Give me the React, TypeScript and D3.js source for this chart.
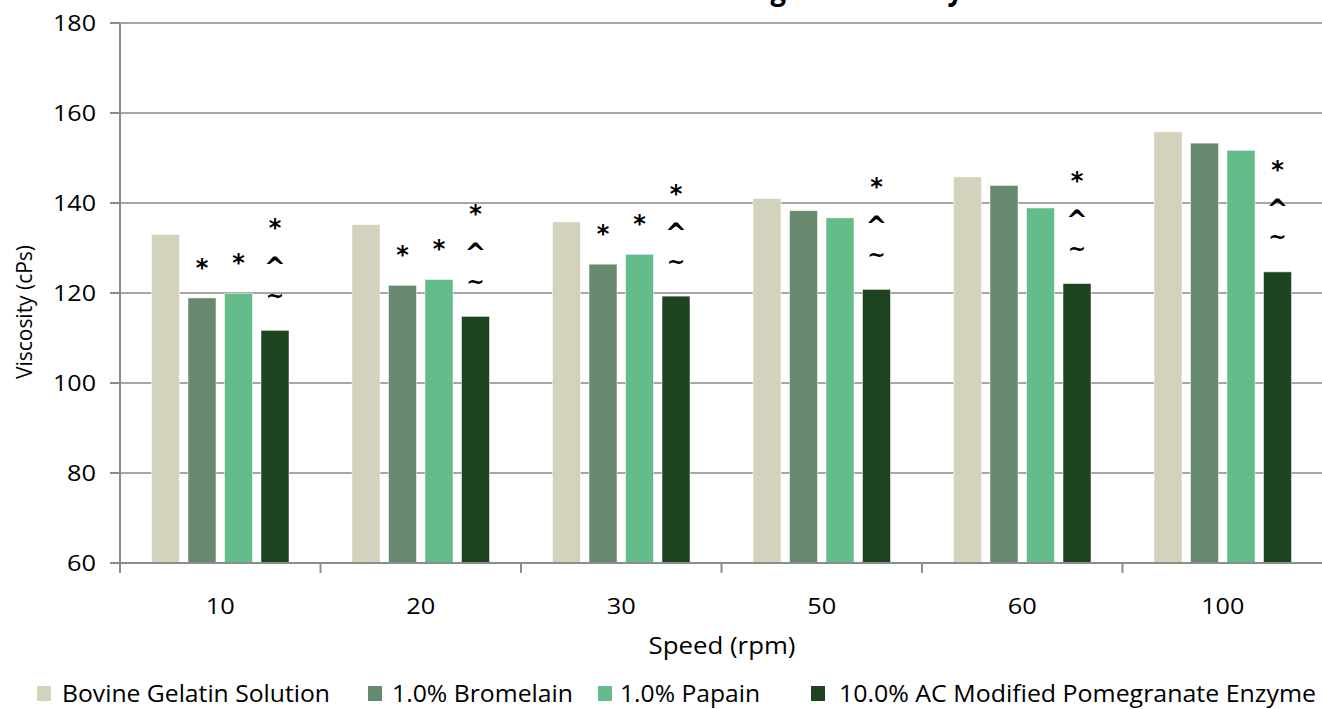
import { useEffect, useRef } from 'react';
import * as d3 from 'd3';

// Viscosity of bovine gelatin solutions after enzyme treatment, by spindle speed.

const categories = ['10', '20', '30', '50', '60', '100'];
const seriesNames = [
    'Bovine Gelatin Solution',
    '1.0% Bromelain',
    '1.0% Papain',
    '10.0% AC Modified Pomegranate Enzyme',
];
const gelatin = [133.0, 135.2, 135.8, 141.0, 145.8, 155.8];
const bromelain = [118.9, 121.7, 126.4, 138.3, 143.9, 153.3];
const papain = [119.9, 123.0, 128.6, 136.7, 138.9, 151.7];
const pomegranate = [111.7, 114.8, 119.3, 120.8, 122.1, 124.7];

// significance markers, stacked top to bottom
const gelatinMarks = ['', '', '', '', '', ''];
const bromelainMarks = ['*', '*', '*', '', '', ''];
const papainMarks = ['*', '*', '*', '', '', ''];
const pomegranateMarks = ['*^~', '*^~', '*^~', '*^~', '*^~', '*^~'];

const yTicks = [60, 80, 100, 120, 140, 160, 180];

const COLORS = {
    gelatin: '#d3d2bc',
    bromelain: '#678a6e',
    papain: '#63bc89',
    pomegranate: '#1e4321',
    grid: '#a6a6a6',
    axis: '#8c8c8c',
    text: '#000',
};

const FONT = '"Open Sans", "Noto Sans", sans-serif';

const W = 1322;
const H = 709;

export default function App() {
    const svgRef = useRef<SVGSVGElement | null>(null);

    useEffect(() => {
        if (!svgRef.current) return;
        const svg = d3.select(svgRef.current);
        svg.selectAll('*').remove();

        const values = [gelatin, bromelain, papain, pomegranate];
        const marks = [gelatinMarks, bromelainMarks, papainMarks, pomegranateMarks];
        const colors = [COLORS.gelatin, COLORS.bromelain, COLORS.papain, COLORS.pomegranate];
        const keys = seriesNames.map((_, i) => String(i));

        const left = 120;
        const plotTop = 23;
        const plotBottom = 563;

        const x = d3.scaleBand<string>().domain(categories).range([left, left + 6 * 200.5]);
        const inner = d3.scaleBand<string>().domain(keys).range([0, x.bandwidth()])
            .paddingInner(0.233).paddingOuter(0.863);
        const y = d3.scaleLinear().domain([60, 180]).range([plotBottom, plotTop]);

        // title, mostly cut off by the top edge (as in the original)
        svg.append('text')
            .attr('x', 668).attr('y', 0)
            .attr('text-anchor', 'middle')
            .attr('textLength', 590).attr('lengthAdjust', 'spacingAndGlyphs')
            .style('font-family', FONT).style('font-size', '30px').style('font-weight', 'bold')
            .text('Bovine Gelatin Solution Change in Viscosity');

        // grid
        svg.append('g')
            .selectAll('line')
            .data(yTicks.filter(d => d !== 60))
            .join('line')
            .attr('x1', left).attr('x2', W)
            .attr('y1', d => y(d)).attr('y2', d => y(d))
            .attr('stroke', COLORS.grid).attr('stroke-width', 2);

        // bars
        categories.forEach((cat, ci) => {
            const g = svg.append('g').attr('transform', `translate(${x(cat)},0)`);
            values.forEach((vals, si) => {
                const bx = inner(keys[si])!;
                const v = vals[ci];
                g.append('rect')
                    .attr('x', bx).attr('y', y(v))
                    .attr('width', inner.bandwidth())
                    .attr('height', y(60) - y(v))
                    .attr('fill', colors[si])
                    .attr('stroke', 'rgba(255,255,255,0.5)')
                    .attr('stroke-width', 1);

                const m = marks[si][ci].split('');
                m.forEach((ch, k) => {
                    const row = m.length - 1 - k;
                    g.append('text')
                        .attr('x', bx + inner.bandwidth() / 2)
                        .attr('y', y(v) - 35 - row * 36)
                        .attr('text-anchor', 'middle')
                        .attr('dominant-baseline', 'central')
                        .style('font-family', '"DejaVu Sans", sans-serif')
                        .style('font-weight', 'bold')
                        .style('font-size', ch === '*' ? '24px' : ch === '^' ? '26px' : '22px')
                        .attr('dy', ch === '*' ? '0.2em' : ch === '^' ? '0.3em' : '0')
                        .text(ch);
                });
            });
        });

        // y axis
        svg.append('line')
            .attr('x1', left).attr('x2', left)
            .attr('y1', plotTop).attr('y2', plotBottom)
            .attr('stroke', COLORS.axis).attr('stroke-width', 2);
        const yt = svg.append('g');
        yt.selectAll('line')
            .data(yTicks)
            .join('line')
            .attr('x1', left - 10).attr('x2', left)
            .attr('y1', d => y(d)).attr('y2', d => y(d))
            .attr('stroke', COLORS.axis).attr('stroke-width', 2);
        yt.selectAll('text')
            .data(yTicks)
            .join('text')
            .attr('x', 96).attr('y', d => y(d))
            .attr('dy', '0.36em')
            .attr('text-anchor', 'end')
            .attr('textLength', d => (d >= 100 ? 43 : 29)).attr('lengthAdjust', 'spacingAndGlyphs')
            .style('font-family', FONT).style('font-size', '22px')
            .text(d => String(d));

        // x axis
        svg.append('line')
            .attr('x1', left).attr('x2', W)
            .attr('y1', plotBottom).attr('y2', plotBottom)
            .attr('stroke', COLORS.axis).attr('stroke-width', 2);
        const bounds = categories.map(c => x(c)!).concat([x.range()[1]]);
        svg.append('g')
            .selectAll('line')
            .data(bounds)
            .join('line')
            .attr('x1', d => d).attr('x2', d => d)
            .attr('y1', plotBottom).attr('y2', plotBottom + 10)
            .attr('stroke', COLORS.axis).attr('stroke-width', 2);
        svg.append('g')
            .selectAll('text')
            .data(categories)
            .join('text')
            .attr('x', d => x(d)! + x.bandwidth() / 2)
            .attr('y', 614)
            .attr('text-anchor', 'middle')
            .attr('textLength', d => (d.length > 2 ? 43 : 29)).attr('lengthAdjust', 'spacingAndGlyphs')
            .style('font-family', FONT).style('font-size', '22px')
            .text(d => d);

        // axis titles
        svg.append('text')
            .attr('x', 722).attr('y', 654)
            .attr('text-anchor', 'middle')
            .attr('textLength', 147).attr('lengthAdjust', 'spacingAndGlyphs')
            .style('font-family', FONT).style('font-size', '23px')
            .text('Speed (rpm)');
        svg.append('text')
            .attr('transform', 'translate(32,312) rotate(-90)')
            .attr('text-anchor', 'middle')
            .attr('textLength', 134).attr('lengthAdjust', 'spacing')
            .style('font-family', FONT).style('font-size', '21px')
            .text('Viscosity (cPs)');

        // legend
        const legendLayout = [
            { sq: 37, tx: 62, len: 268 },
            { sq: 368, tx: 392, len: 181 },
            { sq: 598, tx: 620, len: 140 },
            { sq: 811, tx: 839, len: 477 },
        ];
        const lg = svg.append('g');
        seriesNames.forEach((name, i) => {
            const l = legendLayout[i];
            lg.append('rect')
                .attr('x', l.sq).attr('y', 686)
                .attr('width', 14).attr('height', 15)
                .attr('fill', colors[i]);
            lg.append('text')
                .attr('x', l.tx).attr('y', 702)
                .attr('textLength', l.len).attr('lengthAdjust', 'spacingAndGlyphs')
                .style('font-family', FONT).style('font-size', '24px')
                .text(name);
        });
    }, []);

    return (
        <svg
            ref={svgRef}
            width={W}
            height={H}
            style={{ position: 'absolute', left: 0, top: 0, background: '#fff' }}
        />
    );
}
